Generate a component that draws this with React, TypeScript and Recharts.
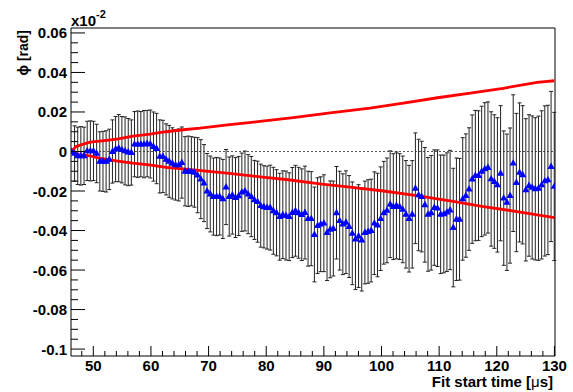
import React from 'react';
import {
  ComposedChart,
  Scatter,
  Line,
  XAxis,
  YAxis,
  ErrorBar,
  ReferenceLine,
  ReferenceArea,
} from 'recharts';

// fit start times [us]
const TIMES = [
  46.2, 46.75, 47.3, 47.84, 48.39, 48.94, 49.49, 50.03, 50.58, 51.13,
  51.68, 52.22, 52.77, 53.32, 53.87, 54.41, 54.96, 55.51, 56.06, 56.6,
  57.15, 57.7, 58.25, 58.79, 59.34, 59.89, 60.44, 60.98, 61.53, 62.08,
  62.63, 63.17, 63.72, 64.27, 64.82, 65.36, 65.91, 66.46, 67.01, 67.55,
  68.1, 68.65, 69.2, 69.74, 70.29, 70.84, 71.39, 71.93, 72.48, 73.03,
  73.58, 74.12, 74.67, 75.22, 75.77, 76.31, 76.86, 77.41, 77.96, 78.5,
  79.05, 79.6, 80.15, 80.69, 81.24, 81.79, 82.34, 82.88, 83.43, 83.98,
  84.53, 85.07, 85.62, 86.17, 86.72, 87.26, 87.81, 88.36, 88.91, 89.45,
  90.0, 90.55, 91.1, 91.64, 92.19, 92.74, 93.29, 93.83, 94.38, 94.93,
  95.48, 96.02, 96.57, 97.12, 97.67, 98.21, 98.76, 99.31, 99.86, 100.4,
  100.95, 101.5, 102.05, 102.59, 103.14, 103.69, 104.24, 104.78, 105.33, 105.88,
  106.43, 106.97, 107.52, 108.07, 108.62, 109.16, 109.71, 110.26, 110.81, 111.35,
  111.9, 112.45, 113.0, 113.54, 114.09, 114.64, 115.19, 115.73, 116.28, 116.83,
  117.38, 117.92, 118.47, 119.02, 119.57, 120.11, 120.66, 121.21, 121.76, 122.3,
  122.85, 123.4, 123.95, 124.49, 125.04, 125.59, 126.14, 126.68, 127.23, 127.78,
  128.33, 128.87, 129.42, 129.97,
];

// phase shift [rad] (x10^-2)
const PHI = [
  0, -0.001, -0.0022, -0.0022, -0.0022, 0.0003, 0.0003, 0.0003, -0.001, -0.005,
  -0.005, -0.005, -0.004, 0.0, 0.0012, 0.0017, 0.0009, 0.0003, -0.0003, -0.0005,
  0.0037, 0.0037, 0.0037, 0.0037, 0.004, 0.0038, 0.0025, 0.0015, -0.0025, -0.0025,
  -0.004, -0.005, -0.006, -0.0068, -0.0068, -0.0056, -0.01, -0.01, -0.01, -0.0105,
  -0.012, -0.014, -0.016, -0.02, -0.0215, -0.0228, -0.0228, -0.0228, -0.024, -0.018,
  -0.0228, -0.022, -0.0233, -0.0225, -0.0206, -0.02, -0.0216, -0.0228, -0.0245, -0.0254,
  -0.0274, -0.028, -0.0284, -0.0284, -0.03, -0.031, -0.033, -0.032, -0.0324, -0.033,
  -0.0309, -0.03, -0.031, -0.032, -0.0309, -0.034, -0.034, -0.042, -0.0375, -0.0368,
  -0.0363, -0.041, -0.0394, -0.039, -0.031, -0.035, -0.0368, -0.0358, -0.038, -0.0414,
  -0.0443, -0.0428, -0.0448, -0.041, -0.0405, -0.04, -0.0363, -0.0372, -0.034, -0.031,
  -0.0298, -0.0267, -0.0279, -0.0273, -0.0279, -0.0293, -0.0318, -0.034, -0.0318, -0.0186,
  -0.022, -0.0228, -0.027, -0.0318, -0.031, -0.0284, -0.0287, -0.0318, -0.0316, -0.0307,
  -0.0296, -0.0385, -0.0343, -0.0343, -0.024, -0.0223, -0.019, -0.014, -0.0122, -0.0122,
  -0.0101, -0.0088, -0.0081, -0.0139, -0.0152, -0.0169, -0.011, -0.0236, -0.0257, -0.0223,
  -0.0059, -0.0157, -0.0106, -0.0118, -0.0194, -0.0172, -0.0182, -0.0189, -0.0186, -0.0169,
  -0.0149, -0.0144, -0.0076, -0.0177,
];

const PHI_ERR = [
  0, 0.014, 0.0145, 0.0148, 0.0145, 0.015, 0.0152, 0.015, 0.0148, 0.015,
  0.0152, 0.0155, 0.0153, 0.016, 0.0165, 0.017, 0.0168, 0.0172, 0.017, 0.0165,
  0.0165, 0.0168, 0.0165, 0.017, 0.0168, 0.0172, 0.0175, 0.0178, 0.0185, 0.0183,
  0.018, 0.0182, 0.018, 0.0178, 0.0182, 0.018, 0.0175, 0.0178, 0.0175, 0.0177,
  0.019, 0.02, 0.0195, 0.019, 0.0192, 0.0195, 0.0198, 0.0195, 0.02, 0.019,
  0.02, 0.0198, 0.0202, 0.02, 0.0198, 0.0202, 0.02, 0.0203, 0.02, 0.0205,
  0.021, 0.0208, 0.021, 0.0215, 0.022, 0.0218, 0.022, 0.0222, 0.0225, 0.0222,
  0.0228, 0.023, 0.023, 0.0232, 0.0235, 0.024, 0.0238, 0.024, 0.0242, 0.024,
  0.0245, 0.0243, 0.0245, 0.024, 0.0234, 0.025, 0.0255, 0.026, 0.0258, 0.026,
  0.0255, 0.026, 0.0258, 0.026, 0.0262, 0.026, 0.026, 0.0262, 0.0262, 0.026,
  0.0265, 0.027, 0.0268, 0.027, 0.0268, 0.027, 0.0272, 0.027, 0.0272, 0.028,
  0.0282, 0.028, 0.029, 0.0288, 0.029, 0.0292, 0.0295, 0.03, 0.0298, 0.03,
  0.0302, 0.03, 0.031, 0.0308, 0.031, 0.0312, 0.031, 0.0325, 0.033, 0.0328,
  0.033, 0.0335, 0.0332, 0.034, 0.0338, 0.034, 0.0342, 0.034, 0.0345, 0.0342,
  0.0346, 0.035, 0.0352, 0.035, 0.036, 0.0358, 0.0362, 0.036, 0.0365, 0.0375,
  0.038, 0.0378, 0.038, 0.0375,
];

// red envelope, upper branch
const ENV_UP_T = [46.2, 47.0, 48.26, 49.43, 51.16, 54.06, 56.9, 59.84, 62.6, 65.6, 68.5, 73.7, 78.9, 84.7, 91.1, 98.0, 103.8, 109.7, 115.4, 121.1, 127.0, 130.0];
const ENV_UP = [0, 0.0025, 0.0037, 0.0047, 0.0053, 0.0063, 0.0078, 0.0088, 0.01, 0.011, 0.0118, 0.0136, 0.0152, 0.0171, 0.0195, 0.022, 0.0245, 0.0272, 0.0295, 0.032, 0.035, 0.0358];

// red envelope, lower branch
const ENV_LO_T = [46.2, 47.57, 49.43, 51.04, 53.94, 56.84, 59.72, 62.62, 67.36, 73.16, 78.94, 83.8, 89.65, 94.57, 100.35, 106.13, 111.9, 117.7, 123.5, 130.0];
const ENV_LO = [0, -0.0017, -0.0022, -0.0034, -0.0047, -0.0059, -0.0068, -0.008, -0.0093, -0.011, -0.0128, -0.0143, -0.0165, -0.018, -0.02, -0.0223, -0.025, -0.0279, -0.0304, -0.0335];

const X_MAJOR = [50, 60, 70, 80, 90, 100, 110, 120, 130];
const X_TICKS = [
  48, 50, 52, 54, 56, 58, 60, 62, 64, 66, 68, 70, 72, 74, 76, 78, 80, 82, 84, 86, 88,
  90, 92, 94, 96, 98, 100, 102, 104, 106, 108, 110, 112, 114, 116, 118, 120, 122, 124,
  126, 128, 130,
];
const Y_MAJOR = [-0.1, -0.08, -0.06, -0.04, -0.02, 0, 0.02, 0.04, 0.06];
const Y_TICKS = [
  -0.1, -0.095, -0.09, -0.085, -0.08, -0.075, -0.07, -0.065, -0.06, -0.055, -0.05,
  -0.045, -0.04, -0.035, -0.03, -0.025, -0.02, -0.015, -0.01, -0.005, 0, 0.005, 0.01,
  0.015, 0.02, 0.025, 0.03, 0.035, 0.04, 0.045, 0.05, 0.055, 0.06,
];

const X_DOMAIN: [number, number] = [46.13, 130.1];
const Y_DOMAIN: [number, number] = [-0.1035, 0.0625];

const FONT = '"Liberation Sans", Arial, Helvetica, sans-serif';

const points = TIMES.map((t, i) => ({ t, phi: PHI[i], err: PHI_ERR[i] }));
const upper = ENV_UP_T.map((t, i) => ({ t, env: ENV_UP[i] }));
const lower = ENV_LO_T.map((t, i) => ({ t, env: ENV_LO[i] }));

const isMajor = (list: number[], v: number) => list.some((m) => Math.abs(m - v) < 1e-9);

const XTick = (props: any) => {
  const { x, y, payload } = props;
  const major = isMajor(X_MAJOR, payload.value);
  return (
    <g>
      <line x1={x} x2={x} y1={y} y2={y - (major ? 10 : 5)} stroke="#000" strokeWidth={1} />
      {major && (
        <text x={x} y={y + 15} textAnchor="middle" fontFamily={FONT} fontWeight="bold" fontSize={15} fill="#000">
          {payload.value}
        </text>
      )}
    </g>
  );
};

const YTick = (props: any) => {
  const { x, y, payload } = props;
  const major = isMajor(Y_MAJOR, payload.value);
  return (
    <g>
      <line x1={x} x2={x + (major ? 14 : 7)} y1={y} y2={y} stroke="#000" strokeWidth={1} />
      {major && (
        <text x={x - 4} y={y + 5.5} textAnchor="end" fontFamily={FONT} fontWeight="bold" fontSize={15} fill="#000">
          {String(payload.value)}
        </text>
      )}
    </g>
  );
};

const Triangle = (props: any) => {
  const { cx, cy } = props;
  if (cx == null || cy == null) return null;
  return <path d={`M${cx},${cy - 4} L${cx + 3.6},${cy + 2.4} L${cx - 3.6},${cy + 2.4} Z`} fill="#0000ff" />;
};

export default function App() {
  return (
    <div style={{ position: 'absolute', left: 0, top: 0, width: 573, height: 392, background: '#fff' }}>
      <ComposedChart width={573} height={392} margin={{ top: 28, right: 18, bottom: 0, left: 0 }}>
        <XAxis
          type="number"
          dataKey="t"
          domain={X_DOMAIN}
          allowDataOverflow
          ticks={X_TICKS}
          interval={0}
          height={36}
          tickSize={0}
          tickMargin={0}
          axisLine={false}
          tickLine={false}
          tick={<XTick />}
        />
        <YAxis
          type="number"
          domain={Y_DOMAIN}
          allowDataOverflow
          ticks={Y_TICKS}
          interval={0}
          width={71}
          tickSize={0}
          tickMargin={0}
          axisLine={false}
          tickLine={false}
          tick={<YTick />}
        />
        <ReferenceLine y={0} stroke="#555" strokeDasharray="2 2" strokeWidth={1} />
        <Scatter data={points} dataKey="phi" shape={<Triangle />} isAnimationActive={false}>
          <ErrorBar dataKey="err" direction="y" width={2} stroke="#222" strokeWidth={1} isAnimationActive={false} />
        </Scatter>
        <Line data={upper} dataKey="env" type="linear" stroke="#ff0000" strokeWidth={2.8} dot={false} isAnimationActive={false} />
        <Line data={lower} dataKey="env" type="linear" stroke="#ff0000" strokeWidth={2.8} dot={false} isAnimationActive={false} />
        <ReferenceArea
          x1={X_DOMAIN[0]}
          x2={X_DOMAIN[1]}
          y1={Y_DOMAIN[0]}
          y2={Y_DOMAIN[1]}
          fill="none"
          fillOpacity={0}
          stroke="#000"
          strokeWidth={1}
        />
      </ComposedChart>
      <svg width={573} height={392} style={{ position: 'absolute', left: 0, top: 0, pointerEvents: 'none' }}>
        <text x={71} y={26} fontFamily={FONT} fontWeight="bold" fontSize={15} fill="#000">
          x10
          <tspan dy={-8} fontSize={11}>-2</tspan>
        </text>
        <text
          transform="translate(28,30) rotate(-90)"
          textAnchor="end"
          fontFamily={FONT}
          fontWeight="bold"
          fontSize={14}
          fill="#000"
        >
          ϕ [rad]
        </text>
        <text x={553} y={387} textAnchor="end" fontFamily={FONT} fontWeight="bold" fontSize={15} fill="#000">
          Fit start time [<tspan fontWeight="normal">μ</tspan>s]
        </text>
      </svg>
    </div>
  );
}
